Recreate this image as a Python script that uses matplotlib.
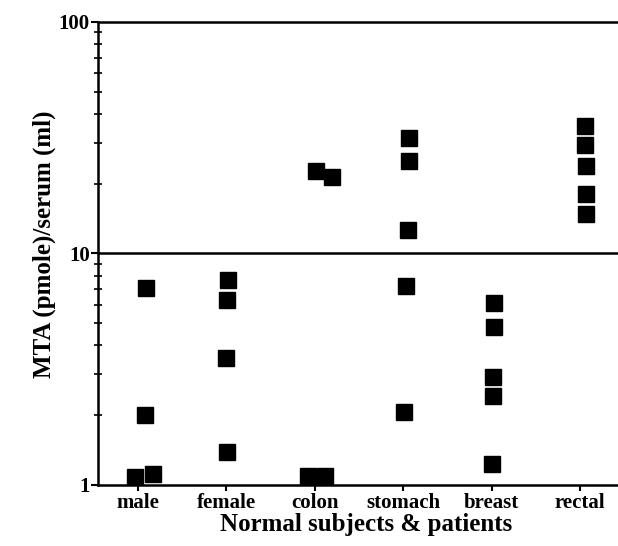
import numpy as np
import matplotlib.pyplot as plt

plt.rcParams["font.family"] = "Liberation Serif"
plt.rcParams["font.weight"] = "bold"

groups = ["male", "female", "colon", "stomach", "breast", "rectal"]

# MTA values per group (log scale), with a small horizontal jitter
male = [7.1, 2.0, 1.08, 1.11]
male_dx = [0.09, 0.08, -0.03, 0.17]
female = [7.7, 6.3, 3.54, 1.39]
female_dx = [0.02, 0.01, -0.01, 0.01]
colon = [22.7, 21.4, 1.09, 1.09]
colon_dx = [0.01, 0.2, -0.08, 0.11]
stomach = [31.5, 25.1, 12.6, 7.2, 2.07]
stomach_dx = [0.07, 0.06, 0.05, 0.03, 0.01]
breast = [6.1, 4.8, 2.93, 2.42, 1.23]
breast_dx = [0.03, 0.03, 0.02, 0.02, 0.01]
rectal = [35.6, 29.4, 23.9, 18.1, 14.8]
rectal_dx = [0.06, 0.06, 0.07, 0.07, 0.07]

values = [male, female, colon, stomach, breast, rectal]
offsets = [male_dx, female_dx, colon_dx, stomach_dx, breast_dx, rectal_dx]

fig = plt.figure(figsize=(6.18, 5.46), dpi=100)
ax = fig.add_axes([0.159, 0.112, 0.841, 0.848])

for i, (vals, dx) in enumerate(zip(values, offsets)):
    xs = i + 1 + np.array(dx)
    ax.plot(xs, vals, "s", color="k", markersize=11, linestyle="none")

ax.set_yscale("log")
ax.set_ylim(1, 100)
ax.set_xlim(0.55, 6.43)
ax.axhline(10, color="k", linewidth=1.8)

ax.spines["right"].set_visible(False)
for s in ["left", "bottom", "top"]:
    ax.spines[s].set_linewidth(1.8)

ax.set_xticks(range(1, 7))
ax.set_xticklabels(groups, fontsize=15, fontweight="bold")
ax.set_yticks([1, 10, 100])
ax.set_yticklabels(["1", "10", "100"], fontsize=15, fontweight="bold")
ax.tick_params(axis="x", direction="out", length=4, width=1.5, pad=2)
ax.tick_params(axis="y", which="major", direction="out", length=5, width=1.5, pad=1)
ax.tick_params(axis="y", which="minor", direction="inout", length=6, width=1.2)

ax.set_xlabel("Normal subjects & patients", fontsize=18, fontweight="bold", labelpad=0, x=0.515)
ax.set_ylabel("MTA (pmole)/serum (ml)", fontsize=18, fontweight="bold", labelpad=2, y=0.52)

fig.savefig("out.png", dpi=100)
